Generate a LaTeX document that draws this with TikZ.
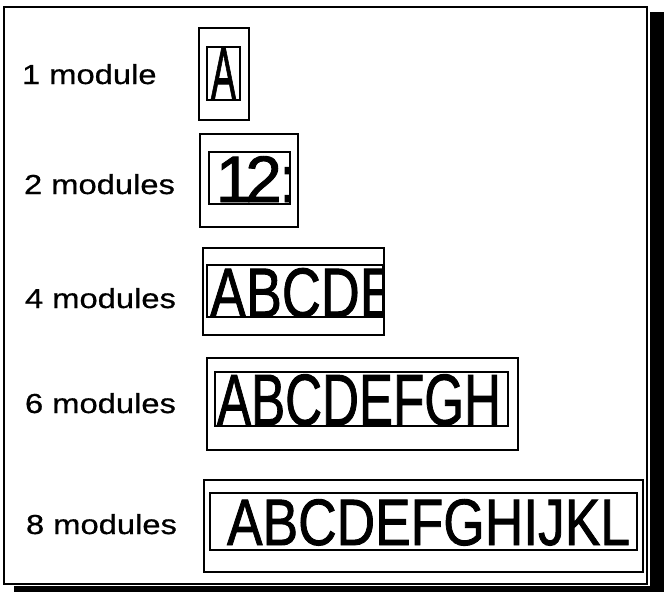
\documentclass[tikz,border=0pt]{standalone}
\usepackage{fontspec}
\setmainfont{Liberation Sans}
\newfontfamily\lblfont[FakeBold=0.6]{Liberation Sans}
\newfontfamily\dispfont[FakeBold=1.4]{Liberation Sans}
\usepackage{graphicx}
\begin{document}
\begin{tikzpicture}[x=1pt,y=-1pt,
  frame/.style={draw, line width=1.6pt, inner sep=0pt, outer sep=0pt},
  obox/.style={draw, line width=1.2pt, inner sep=0pt, outer sep=0pt},
  ibox/.style={draw, line width=1.1pt, inner sep=0pt, outer sep=0pt},
  lbl/.style={anchor=base west, inner sep=0pt, outer sep=0pt},
  disp/.style={anchor=base west, inner sep=0pt, outer sep=0pt}]
\useasboundingbox (0,0) rectangle (664,592);
\fill[white] (0,0) rectangle (664,592);
% shadow of the frame
\fill[black] (650,12) rectangle (664,592);
\fill[black] (14,586) rectangle (664,592);
\node[frame, fill=white, minimum width=643pt, minimum height=577pt] (fr) at (325.5,295.5) {};

% labels
\node[lbl] (l1) at (22,84)  {\lblfont\fontsize{27.5}{27.5}\selectfont\scalebox{1.19}[1]{1 module}};
\node[lbl] (l2) at (24,194) {\lblfont\fontsize{27.5}{27.5}\selectfont\scalebox{1.19}[1]{2 modules}};
\node[lbl] (l4) at (25,308) {\lblfont\fontsize{27.5}{27.5}\selectfont\scalebox{1.19}[1]{4 modules}};
\node[lbl] (l6) at (25,413) {\lblfont\fontsize{27.5}{27.5}\selectfont\scalebox{1.19}[1]{6 modules}};
\node[lbl] (l8) at (26,534) {\lblfont\fontsize{27.5}{27.5}\selectfont\scalebox{1.19}[1]{8 modules}};

% 1 module
\node[obox, minimum width=50pt, minimum height=92pt] (o1) at (224,74) {};
\node[ibox, minimum width=33pt, minimum height=53pt] (i1) at (223.5,73.5) {};
\node[disp] (t1) at (211,99) {\dispfont\fontsize{74}{74}\selectfont\scalebox{0.505}[1]{A}};

% 2 modules
\node[obox, minimum width=98pt, minimum height=93pt] (o2) at (249,180.5) {};
\node[ibox, minimum width=81pt, minimum height=52pt] (i2) at (249.5,178) {};
\begin{scope}
\clip (i2.north west) rectangle (i2.south east);
\node[disp] (t2) at (215.8,202) {\dispfont\fontsize{65.6}{65.6}\selectfont 1\kern-7pt 2\kern-2.7pt :};
\end{scope}

% 4 modules
\node[obox, minimum width=181pt, minimum height=87pt] (o4) at (293.5,291.5) {};
\node[ibox, minimum width=176pt, minimum height=52pt] (i4) at (295,291) {};
\begin{scope}
\clip (i4.north west) rectangle (i4.south east);
\node[disp] (t4) at (210,317) {\dispfont\fontsize{70}{70}\selectfont\scalebox{0.77}[1]{ABCDE}};
\end{scope}

% 6 modules
\node[obox, minimum width=311pt, minimum height=92pt] (o6) at (362.5,404) {};
\node[ibox, minimum width=293pt, minimum height=54pt] (i6) at (361.5,399) {};
\node[disp] (t6) at (217,425) {\dispfont\fontsize{72.6}{72.6}\selectfont\scalebox{0.704}[1]{ABCDEFGH}};

% 8 modules
\node[obox, minimum width=439pt, minimum height=92pt] (o8) at (423.5,526) {};
\node[ibox, minimum width=427pt, minimum height=57pt] (i8) at (423.5,521.5) {};
\node[disp] (t8) at (227,545) {\dispfont\fontsize{65.6}{65.6}\selectfont\scalebox{0.813}[1]{ABCDEFGHIJKL}};
\end{tikzpicture}
\end{document}
